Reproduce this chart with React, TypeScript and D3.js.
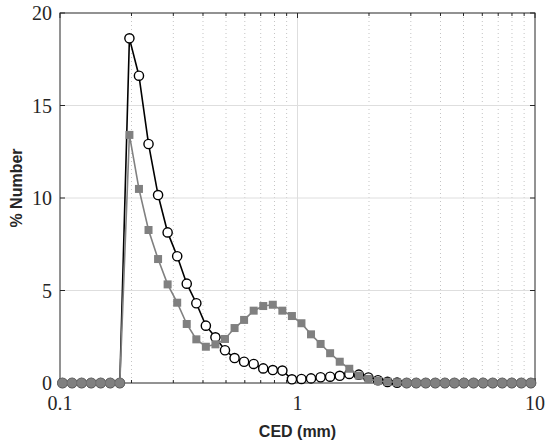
import React from "react";
import * as d3 from "d3";

const cedMm = [
  0.1024, 0.1124, 0.1233, 0.1353, 0.1484, 0.1628, 0.1786, 0.196, 0.215, 0.2359,
  0.2588, 0.2839, 0.3115, 0.3417, 0.375, 0.4113, 0.4513, 0.4951, 0.5433, 0.5958,
  0.6538, 0.7173, 0.787, 0.8635, 0.9473, 1.039, 1.14, 1.251, 1.372, 1.506,
  1.652, 1.812, 1.988, 2.182, 2.393, 2.626, 2.881, 3.161, 3.467, 3.804,
  4.174, 4.579, 5.023, 5.512, 6.047, 6.634, 7.278, 7.985, 8.761, 9.61,
];

const seriesOpen = [
  0, 0, 0, 0, 0, 0, 0, 18.63, 16.61, 12.92,
  10.16, 8.14, 6.85, 5.37, 4.31, 3.1, 2.47, 1.77, 1.35, 1.15,
  1.03, 0.79, 0.7, 0.67, 0.2, 0.22, 0.25, 0.31, 0.34, 0.39,
  0.49, 0.45, 0.3, 0.15, 0.06, 0.02, 0, 0, 0, 0,
  0, 0, 0, 0, 0, 0, 0, 0, 0, 0,
];

const seriesGrey = [
  0, 0, 0, 0, 0, 0, 0, 13.41, 10.49, 8.27,
  6.7, 5.33, 4.34, 3.19, 2.36, 1.96, 2.09, 2.38, 2.97, 3.41,
  3.91, 4.16, 4.23, 3.91, 3.62, 3.23, 2.63, 2.11, 1.61, 1.15,
  0.77, 0.4, 0.22, 0.11, 0.07, 0.04, 0, 0, 0, 0,
  0, 0, 0, 0, 0, 0, 0, 0, 0, 0,
];

const yTicks = [0, 5, 10, 15, 20];
const xTicks = [0.1, 1, 10];
const xTickLabels = ["0.1", "1", "10"];
const xLabel = "CED (mm)";
const yLabel = "% Number";

const W = 548;
const H = 441;
const M = { left: 60, right: 535, top: 13, bottom: 383 };

export default function App() {
  const x = d3.scaleLog().domain([0.1, 10]).range([M.left, M.right]);
  const y = d3.scaleLinear().domain([0, 20]).range([M.bottom, M.top]);

  const minorX: number[] = [];
  [0.1, 1].forEach((d) => {
    for (let k = 2; k <= 9; k++) minorX.push(d * k);
  });

  const line = d3
    .line<number>()
    .x((_, i) => x(cedMm[i]))
    .y((v) => y(v));

  const serif = "'Liberation Serif', 'DejaVu Serif', serif";
  const sans = "'Liberation Sans', Arial, sans-serif";
  const txt = "#262626";

  return (
    <svg
      width={W}
      height={H}
      style={{ position: "absolute", left: 0, top: 0, background: "#fff" }}
    >
      {minorX.map((d) => (
        <line
          key={"mg" + d}
          x1={x(d)}
          x2={x(d)}
          y1={M.top}
          y2={M.bottom}
          stroke="#c4c4c4"
          strokeWidth={1}
          strokeDasharray="1,3"
        />
      ))}
      {xTicks.slice(1, -1).map((d) => (
        <line
          key={"xg" + d}
          x1={x(d)}
          x2={x(d)}
          y1={M.top}
          y2={M.bottom}
          stroke="#dedede"
          strokeWidth={1}
        />
      ))}
      {yTicks.slice(1, -1).map((d) => (
        <line
          key={"yg" + d}
          x1={M.left}
          x2={M.right}
          y1={y(d)}
          y2={y(d)}
          stroke="#dedede"
          strokeWidth={1}
        />
      ))}

      <rect
        x={M.left}
        y={M.top}
        width={M.right - M.left}
        height={M.bottom - M.top}
        fill="none"
        stroke="#262626"
        strokeWidth={1}
      />
      {yTicks.map((d) => (
        <g key={"yt" + d}>
          <line x1={M.left} x2={M.left + 5} y1={y(d)} y2={y(d)} stroke="#262626" />
          <line x1={M.right} x2={M.right - 5} y1={y(d)} y2={y(d)} stroke="#262626" />
          <text
            x={M.left - 8}
            y={y(d)}
            dy="0.35em"
            textAnchor="end"
            fontFamily={serif}
            fontSize={20}
            fill={txt}
          >
            {d}
          </text>
        </g>
      ))}
      {xTicks.map((d, i) => (
        <g key={"xt" + d}>
          <line x1={x(d)} x2={x(d)} y1={M.bottom} y2={M.bottom - 5} stroke="#262626" />
          <line x1={x(d)} x2={x(d)} y1={M.top} y2={M.top + 5} stroke="#262626" />
          <text
            x={x(d)}
            y={M.bottom + 27}
            textAnchor="middle"
            fontFamily={serif}
            fontSize={20}
            fill={txt}
          >
            {xTickLabels[i]}
          </text>
        </g>
      ))}
      {minorX.map((d) => (
        <g key={"mt" + d}>
          <line x1={x(d)} x2={x(d)} y1={M.bottom} y2={M.bottom - 3} stroke="#262626" />
          <line x1={x(d)} x2={x(d)} y1={M.top} y2={M.top + 3} stroke="#262626" />
        </g>
      ))}

      <path d={line(seriesOpen) || ""} fill="none" stroke="#000" strokeWidth={1.6} />
      {seriesOpen.map((v, i) => (
        <circle
          key={"o" + i}
          cx={x(cedMm[i])}
          cy={y(v)}
          r={4.6}
          fill="#fff"
          stroke="#000"
          strokeWidth={1.4}
        />
      ))}

      <path d={line(seriesGrey) || ""} fill="none" stroke="#808080" strokeWidth={1.6} />
      {seriesGrey.map((v, i) =>
        v === 0 ? (
          <circle
            key={"g" + i}
            cx={x(cedMm[i])}
            cy={y(v)}
            r={5}
            fill="#808080"
            stroke="#6e6e6e"
            strokeWidth={0.8}
          />
        ) : (
          <rect
            key={"g" + i}
            x={x(cedMm[i]) - 4}
            y={y(v) - 4}
            width={8}
            height={8}
            fill="#808080"
          />
        )
      )}

      <text
        x={(M.left + M.right) / 2}
        y={437}
        textAnchor="middle"
        fontFamily={sans}
        fontWeight="bold"
        fontSize={16}
        fill={txt}
      >
        {xLabel}
      </text>
      <text
        transform={`translate(22, 188) rotate(-90)`}
        textAnchor="middle"
        fontFamily={sans}
        fontWeight="bold"
        fontSize={16}
        fill={txt}
      >
        {yLabel}
      </text>
    </svg>
  );
}
